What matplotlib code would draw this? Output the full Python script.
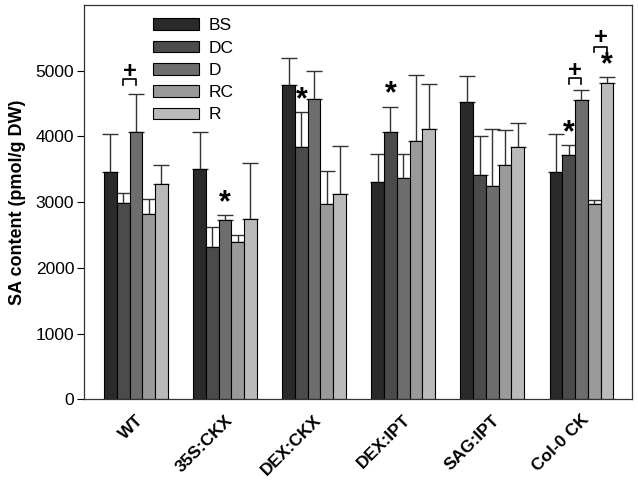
import numpy as np
import matplotlib
matplotlib.use("Agg")
import matplotlib.pyplot as plt
import matplotlib.transforms as mtransforms

plt.rcParams['font.family'] = ['Liberation Sans', 'DejaVu Sans']

groups = ['WT', '35S:CKX', 'DEX:CKX', 'DEX:IPT', 'SAG:IPT', 'Col-0 CK']
series = ['BS', 'DC', 'D', 'RC', 'R']
colors = ['#2a2a2a', '#4b4b4b', '#6d6d6d', '#9a9a9a', '#bababa']

# mean values (pmol/g DW), one list per treatment
bs = [3460, 3500, 4775, 3310, 4530, 3455]
dc = [2980, 2320, 3835, 4060, 3415, 3715]
d = [4060, 2730, 4575, 3375, 3250, 4560]
rc = [2815, 2395, 2970, 3935, 3570, 2970]
r = [3275, 2750, 3120, 4120, 3835, 4805]

# upper error (SD)
bs_err = [575, 560, 410, 425, 385, 585]
dc_err = [160, 305, 530, 390, 595, 150]
d_err = [585, 70, 420, 360, 865, 145]
rc_err = [230, 100, 505, 1000, 530, 65]
r_err = [295, 850, 740, 675, 365, 95]

# significance marks: (group, series index)
stars = [(1, 2), (2, 1), (3, 1), (5, 1), (5, 4)]
# "+" brackets: (group, left series, right series, bracket top, leg bottom, "+" y)
brackets = [(0, 1, 2, 4875, 4780, 4990),
            (5, 1, 2, 4885, 4795, 5005),
            (5, 3, 4, 5360, 5285, 5505)]

values = [bs, dc, d, rc, r]
errors = [bs_err, dc_err, d_err, rc_err, r_err]

fig = plt.figure(figsize=(6.38, 4.87), dpi=100)
ax = fig.add_axes([0.1317, 0.1797, 0.859, 0.8103])

x = np.arange(len(groups))
w = 0.143
offsets = (np.arange(len(series)) - 2) * w

for i, name in enumerate(series):
    ax.bar(x + offsets[i], values[i], w, color=colors[i], edgecolor='black',
           linewidth=0.8, label=name, zorder=2)
    ax.errorbar(x + offsets[i], values[i], yerr=[np.zeros(len(groups)), errors[i]],
                fmt='none', ecolor='#333333', elinewidth=1, capsize=5.5,
                capthick=1, zorder=1)

for g, s in stars:
    top = values[s][g] + errors[s][g]
    ax.annotate('*', (x[g] + offsets[s], top), xytext=(0, -2),
                textcoords='offset points', ha='center', va='bottom',
                fontsize=22, fontweight='bold')

for g, s1, s2, ytop, ylow, yplus in brackets:
    x1 = x[g] + offsets[s1]
    x2 = x[g] + offsets[s2]
    ax.plot([x1, x1, x2, x2], [ylow, ytop, ytop, ylow], color='black', lw=1.2)
    ax.text((x1 + x2) / 2, yplus, '+', ha='center', va='center',
            fontsize=17, fontweight='bold')

ax.set_xlim(-0.582, 5.568)
ax.set_ylim(0, 6000)
ax.set_yticks([0, 1000, 2000, 3000, 4000, 5000])
ax.tick_params(axis='y', direction='out', length=5, labelsize=12.5, pad=2)
ax.set_xticks(x)
ax.set_xticklabels(groups, rotation=45, ha='right', va='center',
                   rotation_mode='anchor', fontweight='bold', fontsize=12.5)
ax.tick_params(axis='x', length=0, pad=13)
shift = mtransforms.ScaledTranslation(5 / 100, 0, fig.dpi_scale_trans)
for lab in ax.get_xticklabels():
    lab.set_transform(lab.get_transform() + shift)
ax.set_ylabel('SA content (pmol/g DW)', fontweight='bold', fontsize=13, labelpad=7)
for sp in ax.spines.values():
    sp.set_linewidth(0.9)
    sp.set_color('#333333')

ax.legend(loc='upper left', bbox_to_anchor=(0.095, 1.01), frameon=False,
          fontsize=12.5, handlelength=2.6, handleheight=0.65, labelspacing=0.42,
          handletextpad=0.6, borderaxespad=0.6)

fig.savefig('out.png', dpi=100)
